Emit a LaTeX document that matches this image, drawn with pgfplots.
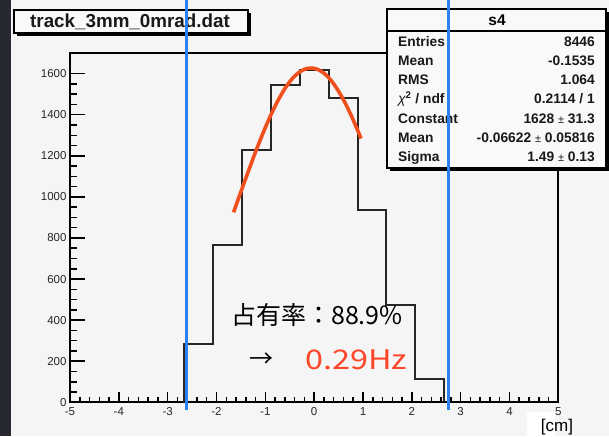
\documentclass[border=0pt]{standalone}
\usepackage{fontspec}
\setmainfont{Liberation Sans}
\newfontfamily\cjk{Noto Sans CJK JP}
\usepackage{pgfplots}
\pgfplotsset{compat=1.18}
\definecolor{canvas}{RGB}{245,245,245}
\definecolor{darkbg}{RGB}{38,41,48}
\definecolor{fitred}{RGB}{240,80,30}
\definecolor{vblue}{RGB}{45,128,240}
\definecolor{hz}{RGB}{255,70,40}
\begin{document}
\begin{tikzpicture}[x=1pt,y=1pt]
\path[use as bounding box] (0,0) rectangle (609,436);
\fill[canvas] (0,0) rectangle (609,436);
\fill[darkbg] (0,0) rectangle (11,436);

\begin{axis}[
  at={(70pt,33.7pt)}, anchor=south west, scale only axis,
  width=488.3pt, height=349.6pt,
  xmin=-5, xmax=5, ymin=0, ymax=1702,
  axis line style={line width=2pt, black},
  xtick={-5,...,5}, minor x tick num=4,
  ytick=\empty,
  xtick pos=bottom, tick align=inside,
  major tick length=10pt, minor tick length=5pt,
  every tick/.style={black, line width=1.5pt},
  tick label style={font=\fontsize{11.5}{12}\selectfont, text=black!85},
  xticklabel style={yshift=-2pt},
  /pgf/number format/assume math mode=true,
  /pgf/number format/1000 sep={},
  clip=false,
]
\addplot[const plot mark left, line width=2pt, black!85] coordinates {
 (-2.664,0) (-2.664,284) (-2.072,767) (-1.480,1228) (-0.888,1544)
 (-0.296,1620) (0.296,1482) (0.888,936) (1.480,472) (2.072,112) (2.664,0)};
\addplot[smooth, line width=3.6pt, fitred] coordinates {
 (-1.65,925) (-1.5,1025) (-1.35,1123) (-1.2,1219) (-1.05,1309) (-0.9,1392)
 (-0.75,1465) (-0.6,1527) (-0.45,1575) (-0.3,1608) (-0.15,1625) (0,1626)
 (0.15,1611) (0.3,1580) (0.45,1533) (0.6,1473) (0.75,1401) (0.9,1319) (0.96,1284)};
\end{axis}

% title box
\fill[black] (17,400) rectangle (251,423);
\draw[fill=canvas!60!white, line width=1.5pt] (14,403) rectangle (248,426);
\node[font=\bfseries\fontsize{18.8}{19}\selectfont, text=black!90] at (130,414.5) {track\_3mm\_0mrad.dat};

% stats box
\fill[black] (390,265) rectangle (609,424);
\draw[fill=canvas!60!white, line width=1.5pt] (387,268) rectangle (606,427);
\draw[line width=1.2pt] (387,405) -- (606,405);
\node[font=\bfseries\fontsize{15.5}{16}\selectfont] at (497,416) {s4};
\begin{scope}[every node/.style={font=\bfseries\fontsize{13.8}{14}\selectfont, inner sep=0, text=black!90}]
\node[anchor=base west] at (398,389) {Entries};
\node[anchor=base west] at (398,370) {Mean};
\node[anchor=base west] at (398,351) {RMS};
\node[anchor=base west] at (398,332) {{\mdseries\itshape χ}\textsuperscript{2} / ndf};
\node[anchor=base west] at (398,312) {Constant};
\node[anchor=base west] at (398,293) {Mean};
\node[anchor=base west] at (398,274) {Sigma};
\node[anchor=base east] at (595,389) {8446};
\node[anchor=base east] at (595,370) {-0.1535};
\node[anchor=base east] at (595,351) {1.064};
\node[anchor=base east] at (595,332) {0.2114 / 1};
\node[anchor=base east] at (595,312) {1628 {\mdseries\fontsize{11}{11}\selectfont ±} 31.3};
\node[anchor=base east] at (595,293) {-0.06622 {\mdseries\fontsize{11}{11}\selectfont ±} 0.05816};
\node[anchor=base east] at (595,274) {1.49 {\mdseries\fontsize{11}{11}\selectfont ±} 0.13};
\end{scope}

\begin{axis}[
  at={(70pt,33.7pt)}, anchor=south west, scale only axis,
  width=488.3pt, height=349.6pt,
  xmin=-5, xmax=5, ymin=0, ymax=1702,
  hide x axis, axis y line*=left,
  axis line style={line width=2pt, black, -},
  ytick={0,200,...,1600}, minor y tick num=3,
  tick align=inside,
  major tick length=15pt, minor tick length=7pt,
  every tick/.style={black, line width=1.5pt},
  tick label style={font=\fontsize{11.5}{12}\selectfont, text=black!85},
  /pgf/number format/assume math mode=true,
  /pgf/number format/1000 sep={},
  clip=false,
]
\addplot[vblue, line width=2.8pt] coordinates {(-2.62,-37) (-2.62,1958)};
\addplot[vblue, line width=2.8pt] coordinates {(2.745,-37) (2.745,1958)};
\end{axis}

\node[anchor=west, inner sep=0] at (231,121) {\cjk\fontsize{25}{26}\selectfont 占有率：88.9\%};
\node[inner sep=0] at (261,76) {\cjk\fontsize{24}{24}\selectfont →};
\node[anchor=west, inner sep=0, text=hz] at (305,76) {\scalebox{1.2}[1]{\cjk\fontsize{27}{27}\selectfont 0.29Hz}};

\fill[white] (527,0) rectangle (555,24);
\node[inner sep=0] at (557,9) {\fontsize{17}{17}\selectfont [cm]};
\end{tikzpicture}
\end{document}
